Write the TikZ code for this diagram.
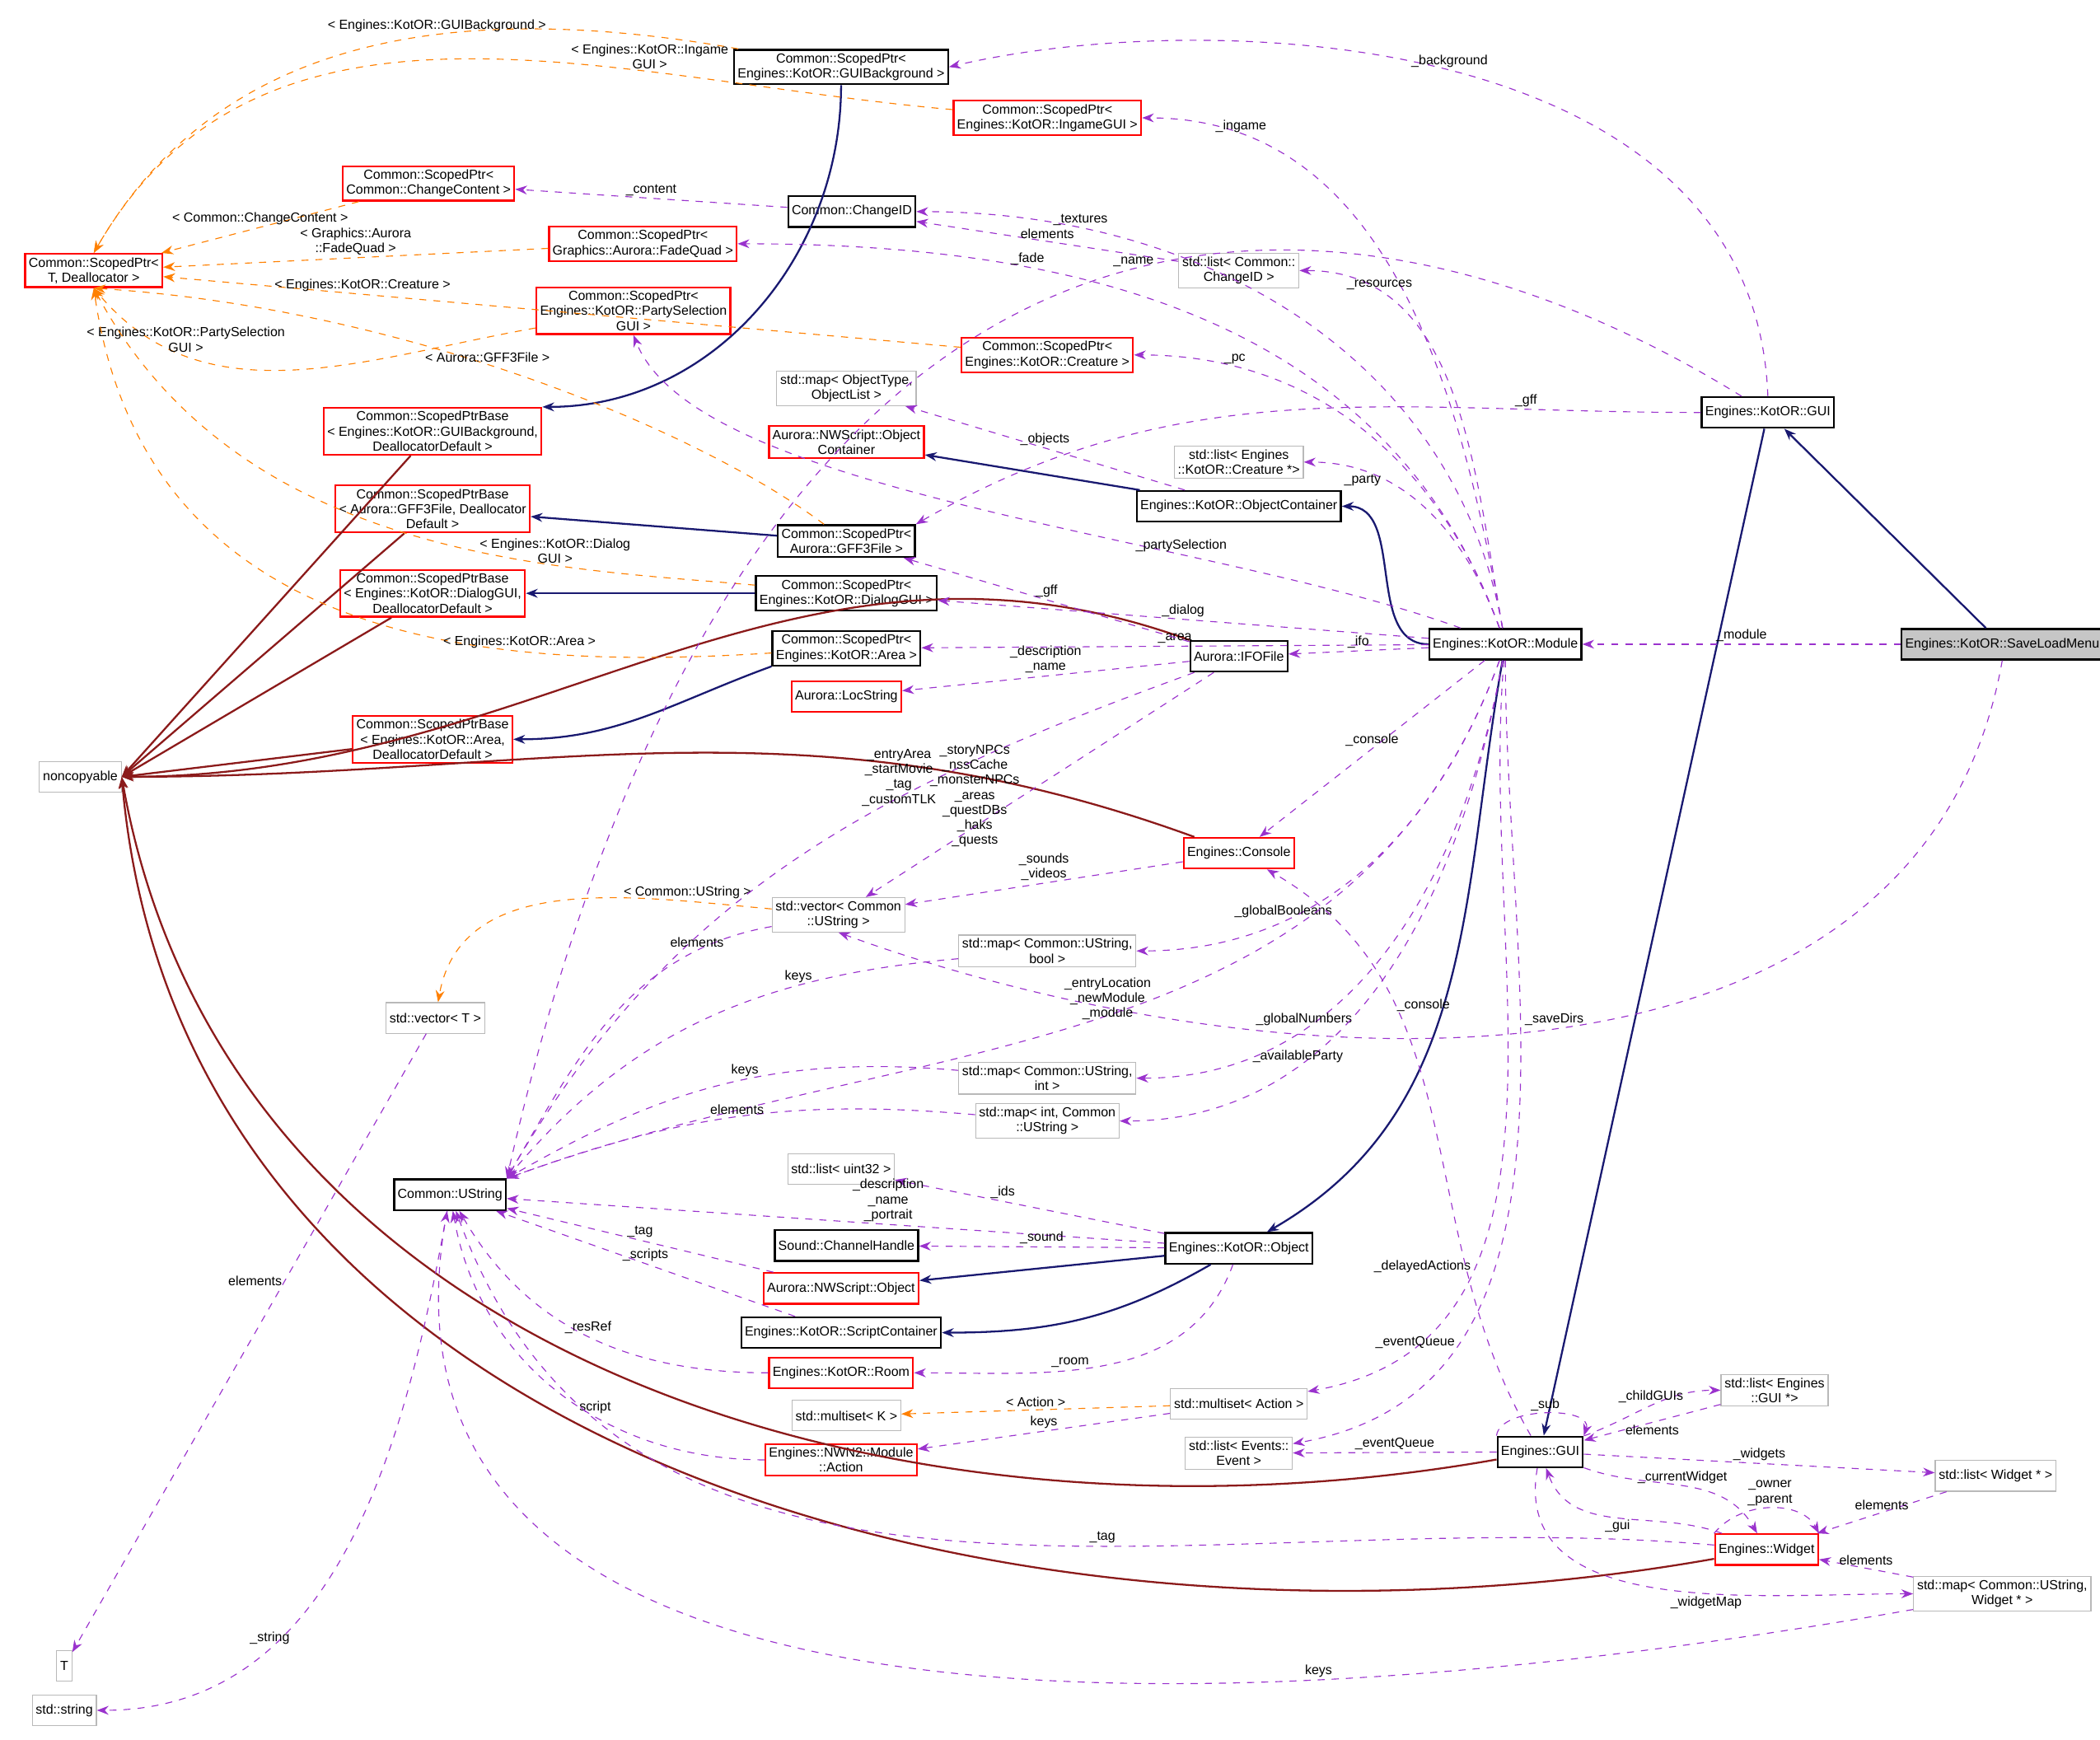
\documentclass[tikz,border=0pt]{standalone}
\usepackage{fontspec}
\setmainfont{Liberation Sans}
\usetikzlibrary{arrows.meta}
\definecolor{inh}{RGB}{25,25,112}
\definecolor{ncp}{RGB}{139,26,26}
\definecolor{use}{RGB}{154,50,205}
\begin{document}
\begin{tikzpicture}[x=0.02cm, y=-0.02cm,
    every node/.style={font=\fontsize{5.6}{6.4}\selectfont, inner sep=1.5pt, align=center},
    blk/.style={draw=black, thick, minimum height=13pt},
    rbox/.style={draw=red, thick, minimum height=13pt},
    gbox/.style={draw=gray!55, minimum height=13pt},
    sel/.style={blk, fill=gray!45},
    base/.style={draw=inh, thick, -{Stealth[length=5pt]}},
    nc/.style={draw=ncp, thick, -{Stealth[length=5pt]}},
    mem/.style={draw=use, dashed, -{Stealth[length=5pt]}},
    tpl/.style={draw=orange, dashed, -{Stealth[length=5pt]}},
    lbl/.style={inner sep=1pt}]

    \useasboundingbox (0,0) rectangle (1568,1299);

    % classes
    \node[sel]  (slm)     at (1495,481) {Engines::KotOR::SaveLoadMenu};
    \node[blk]  (module)  at (1124,481) {Engines::KotOR::Module};
    \node[blk]  (kgui)    at (1320,308) {Engines::KotOR::GUI};
    \node[blk]  (spbg)    at (628,50)   {Common::ScopedPtr<\\ Engines::KotOR::GUIBackground >};
    \node[rbox] (spig)    at (782,88)   {Common::ScopedPtr<\\ Engines::KotOR::IngameGUI >};
    \node[rbox] (spcc)    at (320,137)  {Common::ScopedPtr<\\ Common::ChangeContent >};
    \node[blk]  (chid)    at (636,158)  {Common::ChangeID};
    \node[rbox] (spfq)    at (480,182)  {Common::ScopedPtr<\\ Graphics::Aurora::FadeQuad >};
    \node[rbox] (spT)     at (70,202)   {Common::ScopedPtr<\\ T, Deallocator >};
    \node[gbox] (lchid)   at (925,202)  {std::list< Common::\\ ChangeID >};
    \node[rbox] (spps)    at (473,232)  {Common::ScopedPtr<\\ Engines::KotOR::PartySelection\\ GUI >};
    \node[rbox] (spcr)    at (782,265)  {Common::ScopedPtr<\\ Engines::KotOR::Creature >};
    \node[gbox] (mobj)    at (632,290)  {std::map< ObjectType,\\ ObjectList >};
    \node[rbox] (spbbg)   at (323,322)  {Common::ScopedPtrBase\\ < Engines::KotOR::GUIBackground,\\ DeallocatorDefault >};
    \node[rbox] (nsoc)    at (632,330)  {Aurora::NWScript::Object\\ Container};
    \node[gbox] (lcr)     at (925,345)  {std::list< Engines\\ ::KotOR::Creature *>};
    \node[blk]  (objc)    at (925,378)  {Engines::KotOR::ObjectContainer};
    \node[rbox] (spbgff)  at (323,380)  {Common::ScopedPtrBase\\ < Aurora::GFF3File, Deallocator\\ Default >};
    \node[blk]  (spgff)   at (632,404)  {Common::ScopedPtr<\\ Aurora::GFF3File >};
    \node[blk]  (spdl)    at (632,443)  {Common::ScopedPtr<\\ Engines::KotOR::DialogGUI >};
    \node[rbox] (spbdl)   at (323,443)  {Common::ScopedPtrBase\\ < Engines::KotOR::DialogGUI,\\ DeallocatorDefault >};
    \node[blk]  (spar)    at (632,484)  {Common::ScopedPtr<\\ Engines::KotOR::Area >};
    \node[blk]  (ifo)     at (925,490)  {Aurora::IFOFile};
    \node[rbox] (spbar)   at (323,552)  {Common::ScopedPtrBase\\ < Engines::KotOR::Area,\\ DeallocatorDefault >};
    \node[rbox] (locs)    at (632,520)  {Aurora::LocString};
    \node[gbox] (noncp)   at (60,580)   {noncopyable};
    \node[rbox] (cons)    at (925,637)  {Engines::Console};
    \node[gbox] (vus)     at (626,683)  {std::vector< Common\\ ::UString >};
    \node[gbox] (mbool)   at (782,710)  {std::map< Common::UString,\\ bool >};
    \node[gbox] (vT)      at (325,760)  {std::vector< T >};
    \node[gbox] (mint)    at (782,805)  {std::map< Common::UString,\\ int >};
    \node[gbox] (mius)    at (782,837)  {std::map< int, Common\\ ::UString >};
    \node[gbox] (lu32)    at (628,873)  {std::list< uint32 >};
    \node[blk]  (ustr)    at (336,892)  {Common::UString};
    \node[blk]  (snd)     at (632,930)  {Sound::ChannelHandle};
    \node[blk]  (kobj)    at (925,932)  {Engines::KotOR::Object};
    \node[rbox] (nsobj)   at (628,962)  {Aurora::NWScript::Object};
    \node[blk]  (scont)   at (628,995)  {Engines::KotOR::ScriptContainer};
    \node[rbox] (room)    at (628,1025) {Engines::KotOR::Room};
    \node[gbox] (msact)   at (925,1048) {std::multiset< Action >};
    \node[gbox] (msK)     at (632,1057) {std::multiset< K >};
    \node[rbox] (nact)    at (628,1090) {Engines::NWN2::Module\\ ::Action};
    \node[gbox] (levt)    at (925,1085) {std::list< Events::\\ Event >};
    \node[blk]  (egui)    at (1150,1084) {Engines::GUI};
    \node[gbox] (lgui)    at (1325,1038) {std::list< Engines\\ ::GUI *>};
    \node[gbox] (lwid)    at (1490,1102) {std::list< Widget * >};
    \node[rbox] (wid)     at (1319,1157) {Engines::Widget};
    \node[gbox] (mwid)    at (1495,1190) {std::map< Common::UString,\\ Widget * >};
    \node[gbox] (T)       at (48,1244)  {T};
    \node[gbox] (sstr)    at (48,1277)  {std::string};

    % inheritance
    \draw[base] (slm) -- (kgui);
    \draw[base] (kgui) -- (egui);
    \draw[base] (spbg.south) to[out=-90, in=0] (spbbg.north east);
    \draw[base] (spgff) -- (spbgff);
    \draw[base] (spdl) -- (spbdl);
    \draw[base] (spar.south west) to[out=-160, in=0] (spbar);
    \draw[base] (objc) -- (nsoc);
    \draw[base] (module) to[out=180, in=0] (objc);
    \draw[base] (module) to[out=-100, in=30] (kobj);
    \draw[base] (kobj) -- (nsobj);
    \draw[base] (kobj) to[out=-150, in=0] (scont);
    \foreach \c in {spbbg, spbgff, spbdl, spbar}
        \draw[nc] (\c) -- (noncp.east);
    \draw[nc] (ifo.north west) to[out=160, in=0] (noncp.east);
    \draw[nc] (cons) to[out=160, in=0] (noncp.east);
    \draw[nc] (egui) to[out=-170, in=-80] (noncp.east);
    \draw[nc] (wid) to[out=-170, in=-85] (noncp.east);

    % templates
    \draw[tpl] (spbg) to[out=170, in=60] node[lbl, pos=0.4, above] {< Engines::KotOR::GUIBackground >} (spT.north);
    \draw[tpl] (spig) to[out=175, in=60] node[lbl, pos=0.3, above] {< Engines::KotOR::Ingame\\ GUI >} (spT.north);
    \draw[tpl] (spcc) -- node[lbl, above] {< Common::ChangeContent >} (spT);
    \draw[tpl] (spfq) -- node[lbl, above] {< Graphics::Aurora\\ ::FadeQuad >} (spT);
    \draw[tpl] (spcr) -- node[lbl, pos=0.75, above] {< Engines::KotOR::Creature >} (spT);
    \draw[tpl] (spps) to[out=190, in=-50] node[lbl, pos=0.75, above] {< Engines::KotOR::PartySelection\\ GUI >} (spT.south);
    \draw[tpl] (spgff) .. controls (520,320) and (300,230) .. node[lbl, pos=0.55, above] {< Aurora::GFF3File >} (spT.south);
    \draw[tpl] (spdl) .. controls (420,424) and (180,420) .. node[lbl, pos=0.3, above, inner sep=0.5pt] {< Engines::KotOR::Dialog\\ GUI >} (spT.south);
    \draw[tpl] (spar) .. controls (380,500) and (110,490) .. node[lbl, pos=0.3, above] {< Engines::KotOR::Area >} (spT.south);
    \draw[tpl] (vus) to[out=175, in=80] node[lbl, pos=0.2, above] {< Common::UString >} (vT);
    \draw[tpl] (msact) -- node[lbl, above] {< Action >} (msK);

    % members
    \draw[mem] (slm) -- node[lbl, above] {\_module} (module);
    \draw[mem] (slm.south) to[out=-100, in=-20] node[lbl, pos=0.5, above] {\_saveDirs} (vus.south);
    \draw[mem] (kgui.north) .. controls (1310,20) and (900,5) .. node[lbl, pos=0.5, above] {\_background} (spbg.east);
    \draw[mem] (kgui) .. controls (1000,110) and (560,80) .. node[lbl, pos=0.45, above] {\_name} (ustr.north east);
    \draw[mem] (kgui) to[out=180, in=30] node[lbl, pos=0.2, above] {\_gff} (spgff.north east);
    \draw[mem] (module) to[out=100, in=0] node[lbl, pos=0.85, above] {\_ingame} (spig);
    \draw[mem] (module) to[out=100, in=0] node[lbl, pos=0.8, above] {\_textures} (chid);
    \draw[mem] (module) to[out=100, in=0] node[lbl, pos=0.8, above] {\_resources} (lchid);
    \draw[mem] (module) to[out=110, in=0] node[lbl, pos=0.7, above] {\_fade} (spfq);
    \draw[mem] (module) to[out=110, in=0] node[lbl, pos=0.8, above] {\_pc} (spcr);
    \draw[mem] (module) to[out=110, in=0] node[lbl, pos=0.7, left] {\_party} (lcr);
    \draw[mem] (module) .. controls (900,400) and (520,370) .. node[lbl, pos=0.3, above] {\_partySelection} (spps.south);
    \draw[mem] (module) -- node[lbl, above] {\_dialog} (spdl);
    \draw[mem] (module) -- node[lbl, above] {\_area} (spar);
    \draw[mem] (module) -- node[lbl, above] {\_ifo} (ifo);
    \draw[mem] (module) -- node[lbl, pos=0.5, above] {\_console} (cons);
    \draw[mem] (module) to[out=-110, in=0] node[lbl, pos=0.7, above] {\_globalBooleans} (mbool);
    \draw[mem] (module) to[out=-110, in=20] node[lbl, pos=0.45, left] {\_entryLocation\\ \_newModule\\ \_module} (ustr.north east);
    \draw[mem] (module) to[out=-100, in=0] node[lbl, pos=0.7, above] {\_globalNumbers} (mint);
    \draw[mem] (module) to[out=-100, in=0] node[lbl, pos=0.7, above] {\_availableParty} (mius);
    \draw[mem] (module) to[out=-95, in=10] node[lbl, pos=0.7, left] {\_delayedActions} (msact);
    \draw[mem] (module) to[out=-90, in=10] node[lbl, pos=0.75, left] {\_eventQueue} (levt);
    \draw[mem] (egui) to[out=120, in=-30] node[lbl, pos=0.7, right] {\_console} (cons);
    \draw[mem] (chid) -- node[lbl, above] {\_content} (spcc);
    \draw[mem] (lchid) -- node[lbl, above] {elements} (chid);
    \draw[mem] (objc) -- node[lbl, above] {\_objects} (mobj);
    \draw[mem] (ifo) -- node[lbl, above] {\_gff} (spgff);
    \draw[mem] (ifo) -- node[lbl, above] {\_description\\ \_name} (locs);
    \draw[mem] (ifo) to[out=200, in=60] node[lbl, pos=0.3, left] {\_entryArea\\ \_startMovie\\ \_tag\\ \_customTLK} (ustr.north east);
    \draw[mem] (ifo) -- node[lbl, pos=0.55, left] {\_storyNPCs\\ \_nssCache\\ \_monsterNPCs\\ \_areas\\ \_questDBs\\ \_haks\\ \_quests} (vus);
    \draw[mem] (cons) -- node[lbl, above] {\_sounds\\ \_videos} (vus);
    \draw[mem] (vus) to[out=190, in=60] node[lbl, pos=0.2, above] {elements} (ustr.north east);
    \draw[mem] (mbool) to[out=185, in=50] node[lbl, pos=0.3, above] {keys} (ustr.north east);
    \draw[mem] (mint) to[out=175, in=30] node[lbl, pos=0.45, above] {keys} (ustr.north east);
    \draw[mem] (mius) to[out=175, in=20] node[lbl, pos=0.5, above] {elements} (ustr.north east);
    \draw[mem] (vT) -- node[lbl, pos=0.4, left] {elements} (T);
    \draw[mem] (kobj) -- node[lbl, pos=0.6, above] {\_ids} (lu32);
    \draw[mem] (kobj) -- node[lbl, pos=0.42, above] {\_description\\ \_name\\ \_portrait} (ustr);
    \draw[mem] (kobj) -- node[lbl, above] {\_sound} (snd);
    \draw[mem] (kobj) to[out=-110, in=0] node[lbl, pos=0.6, above] {\_room} (room);
    \draw[mem] (nsobj) -- node[lbl, above] {\_tag} (ustr);
    \draw[mem] (scont) -- node[lbl, above] {\_scripts} (ustr);
    \draw[mem] (room) to[out=180, in=-60] node[lbl, above] {\_resRef} (ustr);
    \draw[mem] (nact) to[out=180, in=-80] node[lbl, pos=0.4, above] {script} (ustr);
    \draw[mem] (msact) -- node[lbl, above] {keys} (nact);
    \draw[mem] (egui) -- node[lbl, above] {\_eventQueue} (levt);
    \draw[mem] (egui.north west) .. controls (1120,1050) and (1190,1050) .. node[lbl, pos=0.5, above] {\_sub} (egui.north east);
    \draw[mem] (egui) to[out=20, in=180] node[lbl, above] {\_childGUIs} (lgui);
    \draw[mem] (lgui) -- node[lbl, below] {elements} (egui);
    \draw[mem] (egui) -- node[lbl, above] {\_widgets} (lwid);
    \draw[mem] (egui) to[out=-20, in=120] node[lbl, above] {\_currentWidget} (wid);
    \draw[mem] (wid) to[out=160, in=-70] node[lbl, below] {\_gui} (egui);
    \draw[mem] (wid.north west) .. controls (1300,1120) and (1345,1120) .. node[lbl, above] {\_owner\\ \_parent} (wid.north east);
    \draw[mem] (lwid) -- node[lbl, above] {elements} (wid);
    \draw[mem] (mwid) -- node[lbl, above] {elements} (wid);
    \draw[mem] (egui) to[out=-100, in=180] node[lbl, pos=0.6, below] {\_widgetMap} (mwid);
    \draw[mem] (wid) to[out=175, in=-70] node[lbl, pos=0.4, above] {\_tag} (ustr);
    \draw[mem] (mwid) to[out=-170, in=-100] node[lbl, pos=0.3, above] {keys} (ustr);
    \draw[mem] (ustr) to[out=-100, in=0] node[lbl, pos=0.7, above] {\_string} (sstr);
\end{tikzpicture}
\end{document}
